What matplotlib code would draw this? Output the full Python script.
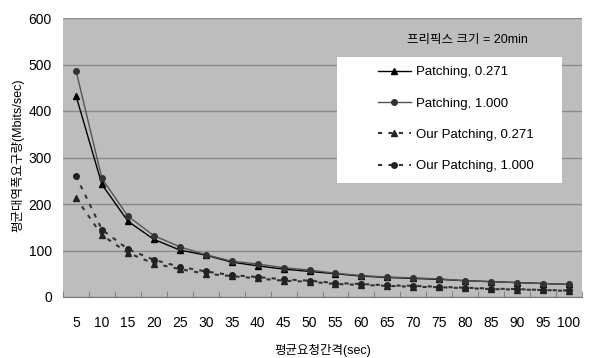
import matplotlib
matplotlib.use("Agg")
import matplotlib.pyplot as plt
from matplotlib.patches import Rectangle
import numpy as np

plt.rcParams['font.family'] = ['Liberation Sans', 'Noto Sans CJK KR', 'DejaVu Sans']

intervals = [5, 10, 15, 20, 25, 30, 35, 40, 45, 50, 55, 60, 65, 70, 75, 80, 85, 90, 95, 100]
patching_0271 = [433, 242, 163, 124, 101, 90, 75, 67, 60, 55, 50, 45, 42, 40, 38, 35, 33, 31, 29, 27]
patching_1000 = [487, 255, 174, 132, 108, 91, 77, 71, 63, 58, 51, 46, 43, 41, 39, 35, 33, 31, 29, 27]
our_0271 = [213, 133, 95, 72, 60, 50, 45, 40, 35, 33, 28, 26, 24, 22, 21, 19, 17, 16, 15, 13]
our_1000 = [260, 145, 103, 80, 65, 55, 47, 43, 38, 35, 30, 28, 25, 24, 22, 20, 18, 17, 15, 14]
yticks = [0, 100, 200, 300, 400, 500, 600]

W, H = 595, 358
L, R, T, B = 63, 582, 18, 297
fig = plt.figure(figsize=(W/100, H/100), dpi=100)
ax = fig.add_axes([L/W, 1-B/H, (R-L)/W, (B-T)/H])
ax.set_facecolor('#bdbdbd')
fig.patch.set_facecolor('white')

def ax_x(px):
    return (px - L) / (R - L)

def ax_y(py):
    return 1 - (py - T) / (B - T)

x = np.arange(len(intervals))
ax.plot(x, patching_0271, '-', color='black', lw=1.0, marker='^', ms=4, label='Patching, 0.271')
ax.plot(x, patching_1000, '-', color='#555555', lw=1.0, marker='o', ms=4,
        mfc='#333333', mec='#333333', label='Patching, 1.000')
ax.plot(x, our_0271, linestyle=(0, (2, 3)), color='#333333', lw=1.5, marker='^', ms=4,
        mfc='#222222', mec='#222222', label='Our Patching, 0.271')
ax.plot(x, our_1000, linestyle=(0, (2, 3)), color='#333333', lw=1.5, marker='o', ms=4,
        mfc='#222222', mec='#222222', label='Our Patching, 1.000')

ax.set_xlim(-0.5, len(intervals) - 0.5)
ax.set_ylim(0, 600)
ax.set_yticks(yticks)
ax.set_yticklabels([str(v) for v in yticks], fontsize=10)
ax.yaxis.grid(True, color='#8a8a8a', lw=1)
ax.set_axisbelow(True)
ax.set_xticks(x)
ax.set_xticklabels([str(v) for v in intervals], fontsize=10)
ax.set_xticks(np.arange(len(intervals) + 1) - 0.5, minor=True)
ax.tick_params(axis='x', which='major', length=0, pad=14)
ax.tick_params(axis='x', which='minor', length=4, direction='in', color='#777777')
ax.tick_params(axis='y', length=0, pad=8)
for s in ['top', 'right', 'left']:
    ax.spines[s].set_visible(False)
ax.spines['bottom'].set_color('#777777')

ax.set_xlabel('평균요청간격(sec)', fontsize=9, labelpad=10)
fig.text(18/W, 1-155/H, '평균대역폭요구량(Mbits/sec)', rotation=90, fontsize=9,
         ha='center', va='center')

ax.text(ax_x(467), ax_y(40), '프리픽스 크기 = 20min', transform=ax.transAxes, fontsize=9,
        ha='center', va='center')

ax.add_patch(Rectangle((ax_x(337), ax_y(183)), ax_x(562) - ax_x(337), ax_y(57) - ax_y(183),
                       transform=ax.transAxes, facecolor='white', edgecolor='none', zorder=4))

leg = ax.legend(loc='upper left', bbox_to_anchor=(ax_x(378), ax_y(66)),
                frameon=False, fontsize=9.5, labelspacing=1.45,
                handlelength=2.5, handletextpad=0.4, borderpad=0, borderaxespad=0)
leg.set_zorder(5)

fig.savefig('out.png', dpi=100)
